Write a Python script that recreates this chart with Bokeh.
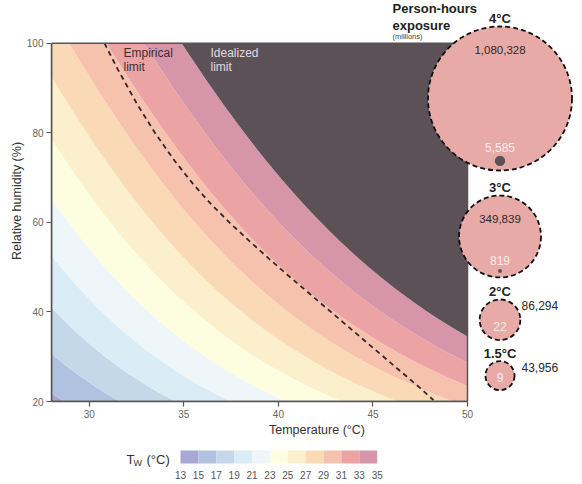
import numpy as np
from bokeh.plotting import figure
from bokeh.layouts import column
from bokeh.models import Range1d, FixedTicker
from bokeh.embed import file_html
from bokeh.resources import INLINE
from bokeh.core.properties import value

# ---------------- data ----------------
TW_LEVELS = [13, 15, 17, 19, 21, 23, 25, 27, 29, 31, 33, 35]
TW_COLORS = ["#aba7d5", "#b1c1e0", "#c4d8ea", "#daecf5", "#eff6fa", "#fdfde0",
             "#fcefcb", "#fad9b6", "#f6c2ae", "#eba4a3", "#d795a9"]
LIMIT_TOP = 60
LIMIT_COLOR = "#5b5156"
X_TICKS = [30, 35, 40, 45, 50]
Y_TICKS = [20, 40, 60, 80, 100]
T_MIN, T_MAX = 28, 50
RH_MIN, RH_MAX = 20, 100

# empirical limit
EMP_T = [30.8, 31.5, 32.5, 33.5, 34.5, 35.5, 36.5, 37.5, 38.5, 39.5, 40.5, 41.5,
         42.5, 43.5, 44.5, 45.5, 46.5, 47.5, 48.2]
EMP_RH = [100, 94.2, 86.6, 79.8, 73.8, 68.5, 63.8, 59.6, 55.7, 51.9, 48.2, 44.6,
          41.0, 37.4, 33.8, 30.2, 26.6, 23.0, 20.3]

# person-hours exposure (millions)
WARMING = ["4°C", "3°C", "2°C", "1.5°C"]
EXPOSURE = [1080328, 349839, 86294, 43956]
EXPOSURE_LIMIT = [5585, 819, 22, 9]


def wet_bulb(t, rh):
    """Stull (2011) wet-bulb temperature."""
    return (t * np.arctan(0.151977 * np.sqrt(rh + 8.313659))
            + np.arctan(t + rh) - np.arctan(rh - 1.676331)
            + 0.00391838 * rh ** 1.5 * np.arctan(0.023101 * rh) - 4.686035)


# ---------------- layout constants (pixels) ----------------
W, H = 582, 484
LEG_H = 44
MAIN_H = H - LEG_H
FL, FB = 51, 401           # frame left, frame bottom (px)
PX_T50, PX_RH100 = 467, 42.7
FONT = "Liberation Sans"

x_end = T_MIN + (T_MAX - T_MIN) * (W - FL) / (PX_T50 - FL)
y_end = RH_MIN + (RH_MAX - RH_MIN) * FB / (FB - PX_RH100)

p = figure(width=W, height=MAIN_H, x_range=Range1d(T_MIN, x_end), y_range=Range1d(RH_MIN, y_end),
           output_backend="svg", toolbar_location=None,
           min_border_left=FL, min_border_right=0, min_border_top=0, min_border_bottom=MAIN_H - FB)
p.extra_x_ranges = {"px": Range1d(FL, W)}
p.extra_y_ranges = {"px": Range1d(FB, 0)}
p.outline_line_color = None
p.grid.visible = False
p.background_fill_color = "white"
p.border_fill_color = "white"

# axes
for ax, ticks, bounds in ((p.xaxis, X_TICKS, (T_MIN, T_MAX)), (p.yaxis, Y_TICKS, (RH_MIN, RH_MAX))):
    ax.ticker = FixedTicker(ticks=ticks)
    ax.bounds = bounds
    ax.axis_line_color = "#555555"
    ax.axis_line_width = 1.5
    ax.major_tick_line_color = "#555555"
    ax.major_tick_line_width = 1.2
    ax.major_tick_out = 5
    ax.major_tick_in = 0
    ax.minor_tick_line_color = None
    ax.major_label_text_font = FONT
    ax.major_label_text_font_size = "10px"
    ax.major_label_text_color = "#666666"
    ax.axis_label_text_font = FONT
    ax.axis_label_text_font_size = "12.5px"
    ax.axis_label_text_font_style = "normal"
    ax.axis_label_text_color = "#333333"
p.xaxis.axis_label = "Temperature (°C)"
p.yaxis.axis_label = "Relative humidity (%)"
p.xaxis.major_label_standoff = 3
p.xaxis.axis_label_standoff = 2
p.yaxis.major_label_standoff = 3
p.yaxis.axis_label_standoff = 0

# wet-bulb field
T = np.linspace(T_MIN, T_MAX, 221)
RH = np.linspace(RH_MIN, RH_MAX, 161)
TT, RR = np.meshgrid(T, RH)
Z = wet_bulb(TT, RR)
p.contour(T, RH, Z, levels=TW_LEVELS + [LIMIT_TOP], fill_color=TW_COLORS + [LIMIT_COLOR],
          line_color=None)

# empirical limit
p.line(EMP_T, EMP_RH, line_dash="5 4", line_color="#33262b", line_width=1.8)

# frame box
p.quad(left=[T_MIN], right=[T_MAX], bottom=[RH_MIN], top=[RH_MAX], fill_color=None,
       line_color="#555555", line_width=1.5)

# limit labels
p.text(x=[123, 123], y=[52, 66], text=["Empirical", "limit"], x_range_name="px", y_range_name="px",
       text_font=value(FONT), text_font_size="12px", text_color="#3a3035",
       text_align="left", text_baseline="middle")
p.text(x=[210, 210], y=[52, 66], text=["Idealized", "limit"], x_range_name="px", y_range_name="px",
       text_font=value(FONT), text_font_size="12px", text_color="#e2dcdc",
       text_align="left", text_baseline="middle")

# ---------------- bubbles ----------------
CX = 499.5
R_MAX = 72
TOP0 = 26
GAPS = [0, 25, 22, 21]
radii = [R_MAX * np.sqrt(v / EXPOSURE[0]) for v in EXPOSURE]
dot_r = [R_MAX * np.sqrt(v / EXPOSURE[0]) for v in EXPOSURE_LIMIT]
cys = []
cur = TOP0
for r, g in zip(radii, GAPS):
    cur += g
    cys.append(cur + r)
    cur = cur + 2 * r
dot_y = [cy + r - 4.5 - d for cy, r, d in zip(cys, radii, dot_r)]

p.circle(x=[CX] * 4, y=cys, radius=radii, x_range_name="px", y_range_name="px",
         fill_color="#e8aaa7", line_color="#111111", line_width=1.8, line_dash="5 3")
p.circle(x=[CX] * 4, y=dot_y, radius=dot_r, x_range_name="px", y_range_name="px",
         fill_color=LIMIT_COLOR, line_color=None)

# bubble titles
p.text(x=[CX] * 4, y=[cy - r - 8 for cy, r in zip(cys, radii)], text=WARMING,
       x_range_name="px", y_range_name="px", text_font=value(FONT), text_font_size="13px",
       text_font_style="bold", text_color="#222222", text_align="center", text_baseline="middle")

# exposure values
in_x, in_y, in_t, out_x, out_y, out_t = [], [], [], [], [], []
for cy, r, v in zip(cys, radii, EXPOSURE):
    if r > 30:
        in_x.append(CX); in_y.append(cy - r + 23); in_t.append(f"{v:,}")
    else:
        out_x.append(521); out_y.append(cy - r + 6.5); out_t.append(f"{v:,}")
p.text(x=in_x, y=in_y, text=in_t, x_range_name="px", y_range_name="px",
       text_font=value(FONT), text_font_size="11.5px", text_color="#2a2a2a",
       text_align="center", text_baseline="middle")
p.text(x=out_x, y=out_y, text=out_t, x_range_name="px", y_range_name="px",
       text_font=value(FONT), text_font_size="12px", text_color="#2a2a2a",
       text_align="left", text_baseline="middle")
p.text(x=[CX] * 4, y=[dy - d - 8 for dy, d in zip(dot_y, dot_r)],
       text=[f"{v:,}" for v in EXPOSURE_LIMIT], x_range_name="px", y_range_name="px",
       text_font=value(FONT), text_font_size="12px", text_color="#f7ecec",
       text_align="center", text_baseline="alphabetic")

# header
p.text(x=[392, 392], y=[8, 25], text=["Person-hours", "exposure"], x_range_name="px", y_range_name="px",
       text_font=value(FONT), text_font_size="13px", text_font_style="bold", text_color="#222222",
       text_align="left", text_baseline="middle")
p.text(x=[392], y=[35.5], text=["(millions)"], x_range_name="px", y_range_name="px",
       text_font=value(FONT), text_font_size="7.5px", text_color="#444444",
       text_align="left", text_baseline="middle")

# ---------------- colour legend (separate strip below, frame aligned with main frame) ----------------
BAR_L, BAR_R = 180, 376.7   # px positions of lowest / highest level
scale = (BAR_R - BAR_L) / (TW_LEVELS[-1] - TW_LEVELS[0])
lx0 = TW_LEVELS[0] - (BAR_L - FL) / scale
lx1 = TW_LEVELS[0] + (W - BAR_L) / scale

leg = figure(width=W, height=LEG_H, x_range=Range1d(lx0, lx1), y_range=Range1d(H, MAIN_H),
             output_backend="svg", toolbar_location=None, x_axis_location=None, y_axis_location=None,
             min_border_left=FL, min_border_right=0, min_border_top=0, min_border_bottom=0)
leg.extra_x_ranges = {"px": Range1d(FL, W)}
leg.outline_line_color = None
leg.grid.visible = False
leg.background_fill_color = "white"
leg.border_fill_color = "white"

leg.quad(left=TW_LEVELS[:-1], right=TW_LEVELS[1:], bottom=463, top=450,
         fill_color=TW_COLORS, line_color=None)
leg.text(x=TW_LEVELS, y=[474] * len(TW_LEVELS), text=[str(v) for v in TW_LEVELS],
         text_font=value(FONT), text_font_size="10px", text_color="#555555",
         text_align="center", text_baseline="middle")
leg.text(x=[126, 146], y=[458.5, 458.5], text=["T", "(°C)"], x_range_name="px",
         text_font=value(FONT), text_font_size="13px", text_color="#333333",
         text_align="left", text_baseline="middle")
leg.text(x=[133], y=[462], text=["W"], x_range_name="px",
         text_font=value(FONT), text_font_size="9px", text_color="#333333",
         text_align="left", text_baseline="middle")

layout = column(p, leg, spacing=0)
open("out.html", "w").write(file_html(layout, INLINE))
